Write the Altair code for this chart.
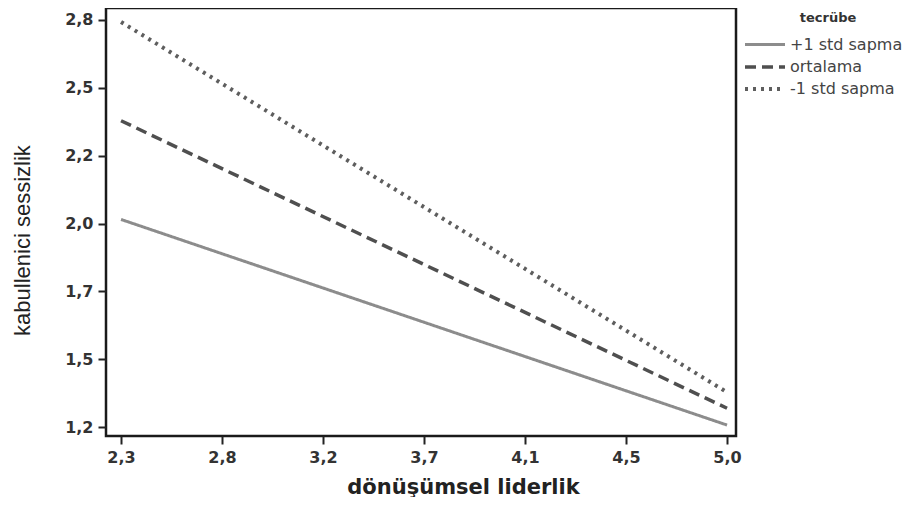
import json
import altair as alt
import pandas as pd

groups = ["+1 std sapma", "ortalama", "-1 std sapma"]
x_points = [2.3, 5.0]
y_start = [2.016, 2.404, 2.792]
y_end = [1.208, 1.274, 1.337]

x_tick_values = [2.3, 2.75, 3.2, 3.65, 4.1, 4.55, 5.0]
x_tick_labels = ["2,3", "2,8", "3,2", "3,7", "4,1", "4,5", "5,0"]
y_tick_values = [1.2, 1.4667, 1.7333, 2.0, 2.2667, 2.5333, 2.8]
y_tick_labels = ["1,2", "1,5", "1,7", "2,0", "2,2", "2,5", "2,8"]

colors = ["#8c8c8c", "#4f4f4f", "#5e5e5e"]
dashes = [[1, 0], [11, 6], [3, 5]]
widths = [3, 4, 3.5]

rows = []
for g, ys, ye in zip(groups, y_start, y_end):
    rows.append({"x": x_points[0], "y": ys, "tecrübe": g})
    rows.append({"x": x_points[1], "y": ye, "tecrübe": g})
df = pd.DataFrame(rows)

x_expr = "%s[round((datum.value - 2.3) / 0.45)]" % json.dumps(x_tick_labels)
y_expr = "%s[round((datum.value - 1.2) * 3.75)]" % json.dumps(y_tick_labels)

wide = "DejaVu Sans"
arial = "Liberation Sans"

chart = alt.Chart(df).mark_line(strokeCap="butt").encode(
    x=alt.X("x:Q", scale=alt.Scale(domain=[2.233, 5.04], nice=False, zero=False),
            axis=alt.Axis(values=x_tick_values, labelExpr=x_expr, title="dönüşümsel liderlik",
                          grid=False, domain=False, tickColor="#222", tickWidth=2, tickSize=8,
                          labelFont=wide, labelFontSize=16, labelFontWeight="bold", labelColor="#333",
                          labelPadding=5,
                          titleFont=wide, titleFontSize=21, titleFontWeight="bold", titleColor="#222",
                          titleX=357, titleY=57, titleBaseline="alphabetic", titleAlign="center")),
    y=alt.Y("y:Q", scale=alt.Scale(domain=[1.165, 2.847], nice=False, zero=False),
            axis=alt.Axis(values=y_tick_values, labelExpr=y_expr, title="kabullenici sessizlik",
                          grid=False, domain=False, tickColor="#222", tickWidth=2, tickSize=8,
                          labelFont=wide, labelFontSize=16, labelFontWeight="bold", labelColor="#333",
                          labelPadding=5,
                          titleFont=arial, titleFontSize=22, titleFontWeight="normal", titleColor="#222",
                          titleX=-84, titleY=232, titleAngle=-90, titleBaseline="middle", titleAlign="center")),
    color=alt.Color("tecrübe:N", scale=alt.Scale(domain=groups, range=colors),
                    legend=alt.Legend(orient="none", legendX=647, legendY=4, symbolType="M-2,0H2",
                                      symbolSize=400, symbolStrokeWidth=3,
                                      symbolFillColor="transparent",
                                      titleFont=wide, titleFontSize=13, titleFontWeight="bold",
                                      titleColor="#333", titleAnchor="middle", titlePadding=8,
                                      labelFont=wide, labelFontSize=16, labelColor="#444",
                                      rowPadding=2, labelOffset=13)),
    strokeDash=alt.StrokeDash("tecrübe:N", scale=alt.Scale(domain=groups, range=dashes)),
    strokeWidth=alt.StrokeWidth("tecrübe:N", scale=alt.Scale(domain=groups, range=widths), legend=None),
).properties(
    width=630, height=428,
    autosize=alt.AutoSizeParams(type="none"),
    padding={"left": 98, "top": 0, "right": 169, "bottom": 61},
).configure(
    background="white",
    view=alt.ViewConfig(stroke="#1a1a1a", strokeWidth=2.5),
)

chart.save("out.html", embed_options={"renderer": "svg", "actions": False})
